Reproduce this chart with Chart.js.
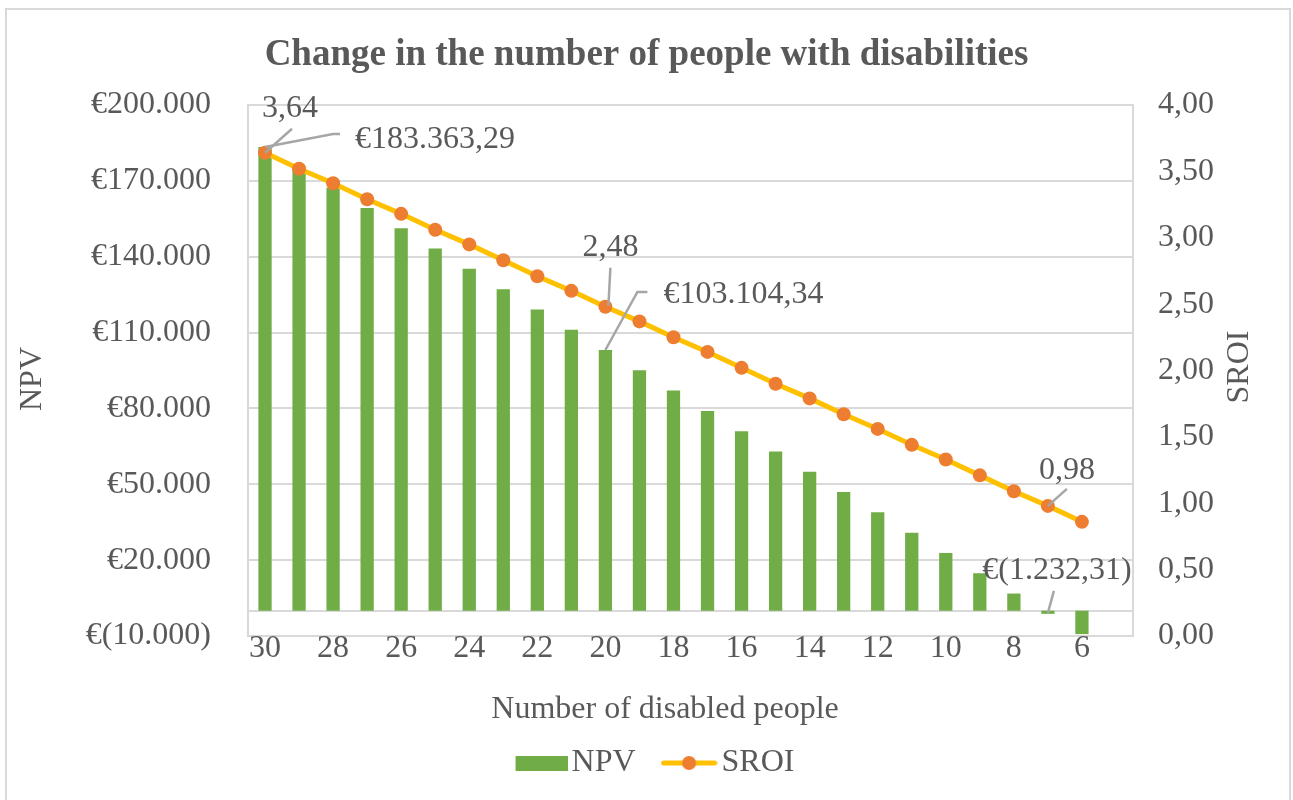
<!DOCTYPE html>
<html>
<head>
<meta charset="utf-8">
<title>Change in the number of people with disabilities</title>
<script src="https://cdn.jsdelivr.net/npm/chart.js@4.4.1/dist/chart.umd.min.js"></script>
<style>
  html, body { margin: 0; padding: 0; background: #ffffff; }
  #wrap { width: 1293px; height: 800px; position: relative; }
</style>
</head>
<body>
<div id="wrap"><canvas id="chart" width="1293" height="800"></canvas></div>
<script>
// Categorie (aantal mensen met een beperking), laatste kolom is leeg
const categories = ['30', '29', '28', '27', '26', '25', '24', '23', '22', '21', '20', '19', '18',
    '17', '16', '15', '14', '13', '12', '11', '10', '9', '8', '7', '6', ''];

// NPV in euro per categorie
const npvValues = [183363.29, 175337.39, 167311.49, 159285.59, 151259.69, 143233.79, 135207.89,
    127181.99, 119156.09, 111130.19, 103104.34, 95078.44, 87052.54, 79026.64, 71000.74, 62974.84,
    54948.94, 46923.04, 38897.14, 30871.24, 22845.34, 14819.44, 6793.54, -1232.31, -9258.21, null];

// SROI ratio per categorie
const sroiValues = [3.64, 3.52, 3.41, 3.29, 3.18, 3.06, 2.95, 2.83, 2.71, 2.60, 2.48, 2.37, 2.25,
    2.14, 2.02, 1.90, 1.79, 1.67, 1.56, 1.44, 1.33, 1.21, 1.09, 0.98, 0.86, null];

// As-instellingen
const npvMin = -10000;
const npvMax = 200000;
const npvStep = 30000;
const sroiMin = 0;
const sroiMax = 4;
const sroiStep = 0.5;

const chartTitle = 'Change in the number of people with disabilities';
const xTitle = 'Number of disabled people';
const npvTitle = 'NPV';
const sroiTitle = 'SROI';

// Welke punten een label krijgen
const npvLabelIndexes = [0, 10, 23];
const sroiLabelIndexes = [0, 10, 23];

const FONT = "'Liberation Serif', 'Times New Roman', serif";
const FS = 32;
const TEXT = '#595959';
const GRID = '#d9d9d9';
const LEADER = '#a6a6a6';
const GREEN = '#70ad47';
const YELLOW = '#ffc000';
const ORANGE = '#ed7d31';

/**
 * Formatteert een getal met punt als duizendtal- en komma als decimaalteken.
 */
function formatNumber(value, decimals) {
    const parts = Math.abs(value).toFixed(decimals).split('.');
    parts[0] = parts[0].replace(/\B(?=(\d{3})+(?!\d))/g, '.');
    return parts.join(',');
}

function formatEuro(value, decimals) {
    return value < 0 ? '€(' + formatNumber(value, decimals) + ')' : '€' + formatNumber(value, decimals);
}

// Legenda-symbolen als kleine canvassen
function legendBar() {
    const c = document.createElement('canvas');
    c.width = 57; c.height = 15;
    const g = c.getContext('2d');
    g.fillStyle = GREEN;
    g.fillRect(5, 0, 52, 15);
    return c;
}

function legendLine() {
    const c = document.createElement('canvas');
    c.width = 57; c.height = 16;
    const g = c.getContext('2d');
    g.strokeStyle = YELLOW;
    g.lineWidth = 5;
    g.lineCap = 'round';
    g.beginPath();
    g.moveTo(3, 8); g.lineTo(54, 8);
    g.stroke();
    g.fillStyle = ORANGE;
    g.beginPath();
    g.arc(28.5, 8, 7, 0, Math.PI * 2);
    g.fill();
    return c;
}

const legendIcons = [legendBar(), legendLine()];

// Positie van labels t.o.v. het ankerpunt: tekstmidden en leader-lijn
const calloutStyle = {
    npv: [
        { tx: 170, ty: -7, line: [[0, 0], [68, -13], [75, -13]] },
        { tx: 138, ty: -55, line: [[0, 0], [32, -58], [42, -58]] },
        { tx: 9, ty: -43, line: [[0, -1], [6, -23]] }
    ],
    sroi: [
        { tx: 25, ty: -44, line: [[0, 0], [27, -24]] },
        { tx: 5, ty: -59, line: [[3, -1], [5, -39]] },
        { tx: 19, ty: -35, line: [[0, 0], [19, -17]] }
    ]
};

const extrasPlugin = {
    id: 'extras',
    afterLayout(chart) {
        // legenda iets naar rechts, zoals in het origineel
        chart.legend.left += 12;
        chart.legend.right += 12;
    },
    beforeDraw(chart) {
        const ctx = chart.ctx;
        ctx.save();
        ctx.fillStyle = '#ffffff';
        ctx.fillRect(0, 0, chart.width, chart.height);
        ctx.strokeStyle = GRID;
        ctx.lineWidth = 2;
        ctx.strokeRect(6, 9, chart.width - 9, chart.height + 20);
        ctx.restore();
    },
    beforeDatasetsDraw(chart) {
        // nullijn van de NPV-as
        const ctx = chart.ctx;
        const area = chart.chartArea;
        const y0 = Math.round(chart.scales.y.getPixelForValue(0));
        ctx.save();
        ctx.strokeStyle = GRID;
        ctx.lineWidth = 2;
        ctx.beginPath();
        ctx.moveTo(area.left, y0);
        ctx.lineTo(area.right, y0);
        ctx.stroke();
        ctx.restore();
    },
    afterDraw(chart) {
        const ctx = chart.ctx;
        ctx.save();
        ctx.fillStyle = TEXT;
        ctx.font = FS + 'px ' + FONT;
        ctx.textAlign = 'center';
        ctx.textBaseline = 'middle';

        // astitels
        ctx.fillText(xTitle, 665, 710);
        ctx.save();
        ctx.translate(33, 379);
        ctx.rotate(-Math.PI / 2);
        ctx.fillText(npvTitle, 0, 0);
        ctx.restore();
        ctx.save();
        ctx.translate(1240, 367);
        ctx.rotate(-Math.PI / 2);
        ctx.fillText(sroiTitle, 0, 0);
        ctx.restore();

        // datalabels met leader-lijnen
        const drawCallout = (x, y, style, text) => {
            ctx.strokeStyle = LEADER;
            ctx.lineWidth = 2.5;
            ctx.beginPath();
            style.line.forEach((p, k) => {
                if (k === 0) ctx.moveTo(x + p[0], y + p[1]);
                else ctx.lineTo(x + p[0], y + p[1]);
            });
            ctx.stroke();
            ctx.fillText(text, x + style.tx, y + style.ty);
        };
        const barMeta = chart.getDatasetMeta(0);
        npvLabelIndexes.forEach((idx, k) => {
            const el = barMeta.data[idx];
            drawCallout(el.x, el.y, calloutStyle.npv[k], formatEuro(npvValues[idx], 2));
        });
        const lineMeta = chart.getDatasetMeta(1);
        sroiLabelIndexes.forEach((idx, k) => {
            const el = lineMeta.data[idx];
            drawCallout(el.x, el.y, calloutStyle.sroi[k], formatNumber(sroiValues[idx], 2));
        });
        ctx.restore();
    }
};

Chart.defaults.font.family = FONT;
Chart.defaults.color = TEXT;

new Chart(document.getElementById('chart'), {
    data: {
        labels: categories,
        datasets: [
            {
                type: 'bar',
                label: 'NPV',
                data: npvValues,
                backgroundColor: GREEN,
                yAxisID: 'y',
                barPercentage: 0.39,
                categoryPercentage: 1,
                order: 1
            },
            {
                type: 'line',
                label: 'SROI',
                data: sroiValues,
                borderColor: YELLOW,
                borderWidth: 5,
                pointStyle: 'circle',
                pointRadius: 7,
                pointBackgroundColor: ORANGE,
                pointBorderWidth: 0,
                yAxisID: 'y1',
                order: 0
            }
        ]
    },
    options: {
        responsive: false,
        animation: false,
        layout: { padding: { left: 0, right: 0, top: 0, bottom: 11 } },
        plugins: {
            title: {
                display: true,
                text: chartTitle,
                color: TEXT,
                font: { size: 37, weight: 'bold', family: FONT },
                padding: { top: 33, bottom: 27.6 }
            },
            legend: {
                position: 'bottom',
                labels: {
                    color: TEXT,
                    font: { size: FS, family: FONT },
                    usePointStyle: true,
                    pointStyleWidth: 33,
                    padding: 37,
                    sort: (a, b) => a.datasetIndex - b.datasetIndex,
                    generateLabels: chart => {
                        const items = Chart.defaults.plugins.legend.labels.generateLabels(chart);
                        items.forEach(item => { item.pointStyle = legendIcons[item.datasetIndex]; });
                        return items;
                    }
                }
            },
            tooltip: { enabled: false }
        },
        scales: {
            x: {
                grid: { display: false, drawTicks: false },
                border: { display: true, color: GRID, width: 2 },
                ticks: {
                    autoSkip: false,
                    maxRotation: 0,
                    padding: -7,
                    font: { size: FS },
                    color: TEXT,
                    callback: (val, idx) => (idx % 2 === 0 ? categories[idx] : '')
                },
                afterFit: scale => { scale.height = 74; }
            },
            y: {
                position: 'left',
                min: npvMin,
                max: npvMax,
                ticks: {
                    stepSize: npvStep,
                    padding: 37,
                    font: { size: FS },
                    color: TEXT,
                    callback: v => formatEuro(v, 0)
                },
                grid: { color: GRID, lineWidth: 2, drawTicks: false },
                border: { display: true, color: GRID, width: 2 },
                afterFit: scale => { scale.width = 248; }
            },
            y1: {
                position: 'right',
                min: sroiMin,
                max: sroiMax,
                ticks: {
                    stepSize: sroiStep,
                    padding: 25,
                    font: { size: FS },
                    color: TEXT,
                    callback: v => formatNumber(v, 2)
                },
                grid: { display: false, drawTicks: false },
                border: { display: true, color: GRID, width: 2 },
                afterFit: scale => { scale.width = 160; }
            }
        }
    },
    plugins: [extrasPlugin]
});
</script>
</body>
</html>
